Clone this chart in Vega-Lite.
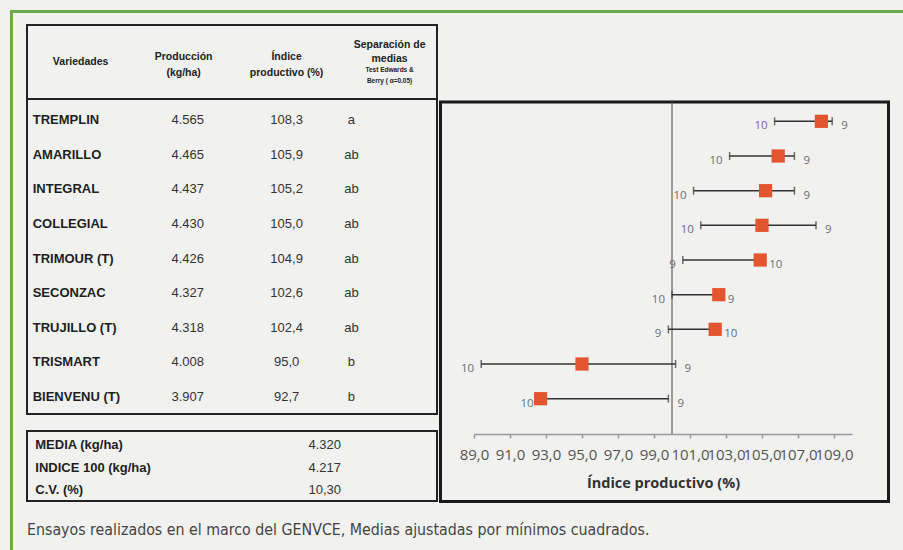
{
  "$schema": "https://vega.github.io/schema/vega-lite/v6.json",
  "padding": {"left": 10, "top": 10, "right": 0, "bottom": 0},
  "background": "#f1f1f0",
  "datasets": {
    "variedades": [
      {"variedad": "TREMPLIN", "produccion": 4565, "indice": 108.3, "sep": "a", "lo": 105.7, "hi": 108.9, "nIzq": 10, "nDer": 9},
      {"variedad": "AMARILLO", "produccion": 4465, "indice": 105.9, "sep": "ab", "lo": 103.2, "hi": 106.8, "nIzq": 10, "nDer": 9},
      {"variedad": "INTEGRAL", "produccion": 4437, "indice": 105.2, "sep": "ab", "lo": 101.2, "hi": 106.8, "nIzq": 10, "nDer": 9},
      {"variedad": "COLLEGIAL", "produccion": 4430, "indice": 105.0, "sep": "ab", "lo": 101.6, "hi": 108.0, "nIzq": 10, "nDer": 9},
      {"variedad": "TRIMOUR (T)", "produccion": 4426, "indice": 104.9, "sep": "ab", "lo": 100.6, "hi": 104.9, "nIzq": 9, "nDer": 10},
      {"variedad": "SECONZAC", "produccion": 4327, "indice": 102.6, "sep": "ab", "lo": 100.0, "hi": 102.6, "nIzq": 10, "nDer": 9},
      {"variedad": "TRUJILLO (T)", "produccion": 4318, "indice": 102.4, "sep": "ab", "lo": 99.8, "hi": 102.4, "nIzq": 9, "nDer": 10},
      {"variedad": "TRISMART", "produccion": 4008, "indice": 95.0, "sep": "b", "lo": 89.4, "hi": 100.2, "nIzq": 10, "nDer": 9},
      {"variedad": "BIENVENU (T)", "produccion": 3907, "indice": 92.7, "sep": "b", "lo": 92.7, "hi": 99.8, "nIzq": 10, "nDer": 9}
    ],
    "cabecera": [
      {"col": "Variedades", "label": "Variedades"},
      {"col": "Producción", "label": "Producción\n(kg/ha)"},
      {"col": "Índice", "label": "Índice\nproductivo (%)"},
      {"col": "Separación", "label": "Separación de\nmedias", "nota": "Test Edwards &\nBerry ( α=0.05)"}
    ],
    "resumen": [
      {"concepto": "MEDIA (kg/ha)", "valor": 4320},
      {"concepto": "INDICE 100 (kg/ha)", "valor": 4217},
      {"concepto": "C.V. (%)", "valor": 10.30}
    ],
    "referencia": [{"indice": 100}]
  },
  "vconcat": [
    {
      "width": 893, "height": 3,
      "data": {"values": []},
      "mark": "text",
      "encoding": {},
      "view": {"fill": "#6aab4b", "stroke": null}
    },
    {
      "hconcat": [
        {
          "width": 3, "height": 537,
          "data": {"values": []},
          "mark": "text",
          "encoding": {},
          "view": {"fill": "#6aab4b", "stroke": null}
        },
        {
          "vconcat": [
            {
              "width": 10, "height": 1,
              "data": {"values": []},
              "mark": "text",
              "encoding": {},
              "view": {"fill": null, "stroke": null}
            },
            {
              "title": {
                "text": "Ensayos realizados en el marco del GENVCE, Medias ajustadas por mínimos cuadrados.",
                "orient": "bottom",
                "anchor": "start",
                "offset": 20,
                "dx": 2,
                "font": "Liberation Sans Narrow, DejaVu Sans Condensed, sans-serif",
                "fontSize": 15.8,
                "fontWeight": "normal",
                "color": "#444444"
              },
              "hconcat": [
                {
                  "vconcat": [
                    {
                      "width": 412, "height": 391,
                      "view": {"stroke": null},
                      "data": {"name": "variedades"},
                      "layer": [
                        {
                          "data": {"name": "referencia"},
                          "mark": {"type": "rect", "fill": "transparent", "stroke": "#222222", "strokeWidth": 4, "clip": true},
                          "encoding": {}
                        },
                        {
                          "data": {"name": "referencia"},
                          "mark": {"type": "rule", "color": "#222222", "strokeWidth": 2},
                          "encoding": {
                            "y": {"datum": "TREMPLIN", "type": "nominal", "bandPosition": -0.116,
                                  "scale": {"domain": ["TREMPLIN", "AMARILLO", "INTEGRAL", "COLLEGIAL", "TRIMOUR (T)", "SECONZAC", "TRUJILLO (T)", "TRISMART", "BIENVENU (T)"], "range": [79, 390], "paddingInner": 0, "paddingOuter": 0}, "axis": null}
                          }
                        },
                        {
                          "data": {"name": "cabecera"},
                          "transform": [{"filter": "datum.col == 'Variedades'"}],
                          "mark": {"type": "text", "font": "Liberation Sans", "fontWeight": "bold", "fontSize": 10.5, "color": "#222222"},
                          "encoding": {
                            "x": {"field": "col", "type": "nominal", "bandPosition": 0.53, "axis": null,
                                  "scale": {"type": "band", "domain": ["Variedades", "Producción", "Índice", "Separación"], "paddingInner": 0, "paddingOuter": 0}},
                            "y": {"datum": "TREMPLIN", "type": "nominal", "bandPosition": -1.18},
                            "text": {"field": "label"}
                          }
                        },
                        {
                          "data": {"name": "cabecera"},
                          "transform": [{"filter": "datum.col == 'Producción' || datum.col == 'Índice'"}],
                          "mark": {"type": "text", "font": "Liberation Sans", "fontWeight": "bold", "fontSize": 10.5, "color": "#222222", "lineBreak": "\n", "lineHeight": 16},
                          "encoding": {
                            "x": {"field": "col", "type": "nominal", "bandPosition": 0.53, "axis": null,
                                  "scale": {"type": "band", "domain": ["Variedades", "Producción", "Índice", "Separación"], "paddingInner": 0, "paddingOuter": 0}},
                            "y": {"datum": "TREMPLIN", "type": "nominal", "bandPosition": -1.33},
                            "text": {"field": "label"}
                          }
                        },
                        {
                          "data": {"name": "cabecera"},
                          "transform": [{"filter": "datum.col == 'Separación'"}],
                          "mark": {"type": "text", "font": "Liberation Sans", "fontWeight": "bold", "fontSize": 10.5, "color": "#222222", "lineBreak": "\n", "lineHeight": 14},
                          "encoding": {
                            "x": {"field": "col", "type": "nominal", "bandPosition": 0.53, "axis": null,
                                  "scale": {"type": "band", "domain": ["Variedades", "Producción", "Índice", "Separación"], "paddingInner": 0, "paddingOuter": 0}},
                            "y": {"datum": "TREMPLIN", "type": "nominal", "bandPosition": -1.68},
                            "text": {"field": "label"}
                          }
                        },
                        {
                          "data": {"name": "cabecera"},
                          "transform": [{"filter": "datum.col == 'Separación'"}],
                          "mark": {"type": "text", "font": "Liberation Sans", "fontWeight": "bold", "fontSize": 6.5, "color": "#222222", "lineBreak": "\n", "lineHeight": 11},
                          "encoding": {
                            "x": {"field": "col", "type": "nominal", "bandPosition": 0.53, "axis": null,
                                  "scale": {"type": "band", "domain": ["Variedades", "Producción", "Índice", "Separación"], "paddingInner": 0, "paddingOuter": 0}},
                            "y": {"datum": "TREMPLIN", "type": "nominal", "bandPosition": -0.95},
                            "text": {"field": "nota"}
                          }
                        },
                        {
                          "mark": {"type": "text", "align": "left", "font": "Liberation Sans", "fontWeight": "bold", "fontSize": 13, "color": "#1e1e1e"},
                          "encoding": {
                            "x": {"datum": "Variedades", "type": "nominal", "bandPosition": 0.065, "axis": null,
                                  "scale": {"type": "band", "domain": ["Variedades", "Producción", "Índice", "Separación"], "paddingInner": 0, "paddingOuter": 0}},
                            "y": {"field": "variedad", "type": "nominal", "sort": null},
                            "text": {"field": "variedad"}
                          }
                        },
                        {
                          "mark": {"type": "text", "font": "Liberation Sans", "fontSize": 13, "color": "#333333"},
                          "encoding": {
                            "x": {"datum": "Producción", "type": "nominal", "bandPosition": 0.57, "axis": null,
                                  "scale": {"type": "band", "domain": ["Variedades", "Producción", "Índice", "Separación"], "paddingInner": 0, "paddingOuter": 0}},
                            "y": {"field": "variedad", "type": "nominal", "sort": null},
                            "text": {"field": "produccion", "type": "quantitative", "format": ",.0f"}
                          }
                        },
                        {
                          "mark": {"type": "text", "font": "Liberation Sans", "fontSize": 13, "color": "#333333"},
                          "encoding": {
                            "x": {"datum": "Índice", "type": "nominal", "bandPosition": 0.53, "axis": null,
                                  "scale": {"type": "band", "domain": ["Variedades", "Producción", "Índice", "Separación"], "paddingInner": 0, "paddingOuter": 0}},
                            "y": {"field": "variedad", "type": "nominal", "sort": null},
                            "text": {"field": "indice", "type": "quantitative", "format": ".1f"}
                          }
                        },
                        {
                          "mark": {"type": "text", "font": "Liberation Sans", "fontSize": 13, "color": "#333333"},
                          "encoding": {
                            "x": {"datum": "Separación", "type": "nominal", "bandPosition": 0.16, "axis": null,
                                  "scale": {"type": "band", "domain": ["Variedades", "Producción", "Índice", "Separación"], "paddingInner": 0, "paddingOuter": 0}},
                            "y": {"field": "variedad", "type": "nominal", "sort": null},
                            "text": {"field": "sep"}
                          }
                        }
                      ]
                    },
                    {
                      "width": 412, "height": 72,
                      "view": {"stroke": null},
                      "data": {"name": "resumen"},
                      "layer": [
                        {
                          "data": {"name": "referencia"},
                          "mark": {"type": "rect", "fill": "transparent", "stroke": "#222222", "strokeWidth": 4, "clip": true},
                          "encoding": {}
                        },
                        {
                          "mark": {"type": "text", "align": "left", "font": "Liberation Sans", "fontWeight": "bold", "fontSize": 13, "color": "#1e1e1e"},
                          "encoding": {
                            "x": {"datum": "Variedades", "type": "nominal", "bandPosition": 0.09, "axis": null,
                                  "scale": {"type": "band", "domain": ["Variedades", "Producción", "Índice", "Separación"], "paddingInner": 0, "paddingOuter": 0}},
                            "y": {"field": "concepto", "type": "nominal", "sort": null, "axis": null,
                                  "scale": {"domain": ["MEDIA (kg/ha)", "INDICE 100 (kg/ha)", "C.V. (%)"], "range": [4, 71], "paddingInner": 0, "paddingOuter": 0}},
                            "text": {"field": "concepto"}
                          }
                        },
                        {
                          "transform": [{"filter": "datum.concepto != 'C.V. (%)'"}],
                          "mark": {"type": "text", "font": "Liberation Sans", "fontSize": 13, "color": "#333333"},
                          "encoding": {
                            "x": {"datum": "Índice", "type": "nominal", "bandPosition": 0.9, "axis": null,
                                  "scale": {"type": "band", "domain": ["Variedades", "Producción", "Índice", "Separación"], "paddingInner": 0, "paddingOuter": 0}},
                            "y": {"field": "concepto", "type": "nominal", "sort": null},
                            "text": {"field": "valor", "type": "quantitative", "format": ",.0f"}
                          }
                        },
                        {
                          "transform": [{"filter": "datum.concepto == 'C.V. (%)'"}],
                          "mark": {"type": "text", "font": "Liberation Sans", "fontSize": 13, "color": "#333333"},
                          "encoding": {
                            "x": {"datum": "Índice", "type": "nominal", "bandPosition": 0.9, "axis": null,
                                  "scale": {"type": "band", "domain": ["Variedades", "Producción", "Índice", "Separación"], "paddingInner": 0, "paddingOuter": 0}},
                            "y": {"field": "concepto", "type": "nominal", "sort": null},
                            "text": {"field": "valor", "type": "quantitative", "format": ".2f"}
                          }
                        }
                      ]
                    }
                  ],
                  "spacing": 15
                },
                {
                  "vconcat": [
                    {
                      "width": 451, "height": 1,
                      "data": {"values": []},
                      "mark": "text",
                      "encoding": {},
                      "view": {"fill": null, "stroke": null}
                    },
                    {
                      "width": 451, "height": 402.5,
                      "view": {"stroke": null},
                      "data": {"name": "variedades"},
                      "layer": [
                        {
                          "data": {"name": "referencia"},
                          "mark": {"type": "rect", "fill": "transparent", "stroke": "#1a1a1a", "strokeWidth": 6, "clip": true},
                          "encoding": {}
                        },
                        {
                          "data": {"name": "referencia"},
                          "mark": {"type": "rule", "color": "#444444", "strokeWidth": 1},
                          "encoding": {
                            "x": {"field": "indice", "type": "quantitative", "title": "Índice productivo (%)"},
                            "y": {"datum": "TREMPLIN", "type": "nominal", "bandPosition": -0.1, "axis": null,
                                  "scale": {"domain": ["TREMPLIN", "AMARILLO", "INTEGRAL", "COLLEGIAL", "TRIMOUR (T)", "SECONZAC", "TRUJILLO (T)", "TRISMART", "BIENVENU (T)"], "range": [3.5, 315.5], "paddingInner": 0, "paddingOuter": 0}},
                            "y2": {"datum": "BIENVENU (T)", "bandPosition": 1.52}
                          }
                        },
                        {
                          "mark": {"type": "rule", "color": "#333333", "strokeWidth": 1.5},
                          "encoding": {
                            "x": {"field": "lo", "type": "quantitative", "title": "Índice productivo (%)"},
                            "x2": {"field": "hi"},
                            "y": {"field": "variedad", "type": "nominal", "sort": null}
                          }
                        },
                        {
                          "mark": {"type": "tick", "orient": "vertical", "size": 8, "thickness": 1.5, "color": "#333333"},
                          "encoding": {
                            "x": {"field": "lo", "type": "quantitative", "title": "Índice productivo (%)"},
                            "y": {"field": "variedad", "type": "nominal", "sort": null}
                          }
                        },
                        {
                          "mark": {"type": "tick", "orient": "vertical", "size": 8, "thickness": 1.5, "color": "#333333"},
                          "encoding": {
                            "x": {"field": "hi", "type": "quantitative", "title": "Índice productivo (%)"},
                            "y": {"field": "variedad", "type": "nominal", "sort": null}
                          }
                        },
                        {
                          "mark": {"type": "point", "shape": "square", "filled": true, "size": 175, "opacity": 1, "color": "#e3552f"},
                          "encoding": {
                            "y": {"field": "variedad", "type": "nominal", "sort": null},
                            "x": {"field": "indice", "type": "quantitative", "title": "Índice productivo (%)",
                                  "scale": {"domain": [89, 110], "range": [35, 413], "nice": false, "zero": false},
                                  "axis": {
                                    "values": [89, 91, 93, 95, 97, 99, 101, 103, 105, 107, 109],
                                    "format": ".1f",
                                    "offset": -69,
                                    "grid": false,
                                    "labelFont": "Open Sans",
                                    "labelFontSize": 15,
                                    "labelColor": "#555555",
                                    "labelPadding": 9.5,
                                    "labelOverlap": false,
                                    "labelFlush": false,
                                    "domainColor": "#999999",
                                    "domainWidth": 1.5,
                                    "tickColor": "#999999",
                                    "tickWidth": 1.5,
                                    "tickSize": 4,
                                    "titleFont": "Open Sans",
                                    "titleFontSize": 14.5,
                                    "titleFontWeight": "bold",
                                    "titleColor": "#333333",
                                    "titlePadding": 14
                                  }}
                          }
                        },
                        {
                          "mark": {"type": "text", "align": "right", "dx": -7, "dy": 5, "font": "Open Sans", "fontSize": 11.5, "color": "#6e6e6e"},
                          "encoding": {
                            "x": {"field": "lo", "type": "quantitative", "title": "Índice productivo (%)"},
                            "y": {"field": "variedad", "type": "nominal", "sort": null},
                            "text": {"field": "nIzq"}
                          }
                        },
                        {
                          "mark": {"type": "text", "align": "left", "dx": 9, "dy": 5, "font": "Open Sans", "fontSize": 11.5, "color": "#6e6e6e"},
                          "encoding": {
                            "x": {"field": "hi", "type": "quantitative", "title": "Índice productivo (%)"},
                            "y": {"field": "variedad", "type": "nominal", "sort": null},
                            "text": {"field": "nDer"}
                          }
                        }
                      ]
                    }
                  ],
                  "spacing": 74.5
                }
              ],
              "spacing": 0
            }
          ],
          "spacing": 10
        }
      ],
      "spacing": 12
    }
  ],
  "spacing": 0,
  "config": {
    "locale": {"number": {"decimal": ",", "thousands": ".", "grouping": [3], "currency": ["", " €"]}},
    "view": {"stroke": "#222222", "strokeWidth": 2},
    "font": "Liberation Sans"
  }
}
